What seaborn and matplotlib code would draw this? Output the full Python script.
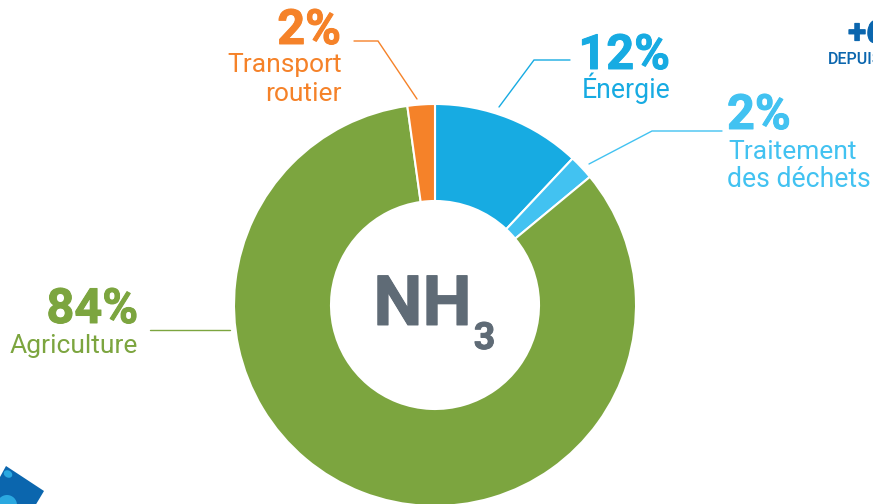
import numpy as np
import matplotlib.pyplot as plt
import matplotlib.patheffects as pe
from matplotlib.patches import Polygon, Circle, Ellipse
import seaborn as sns

# Données
categories = ['Énergie', 'Traitement\ndes déchets', 'Agriculture', 'Transport\nroutier']
values = [12, 2, 83.8, 2.2]
pct_labels = ['12%', '2%', '84%', '2%']
colors = ['#17ABE2', '#42C2F1', '#7CA53F', '#F58229']

sns.set_theme(style='white')
plt.rcParams['font.family'] = ['Roboto', 'DejaVu Sans']

W, H = 873, 504
CX, CY, R = 435, 199, 201   # y compté depuis le bas

fig = plt.figure(figsize=(W / 100, H / 100), dpi=100)
ax = fig.add_axes([0, 0, 1, 1])

ax.pie(values, colors=colors, startangle=90, counterclock=False,
       center=(CX, CY), radius=R,
       wedgeprops={'width': 97, 'edgecolor': 'white', 'linewidth': 1.5})
ax.set_xlim(0, W)
ax.set_ylim(0, H)
ax.set_aspect('equal')
ax.axis('off')


def py(y):
    # coordonnée pixel de l'image -> axe
    return H - y


def heavy(x, y, s, c, size, ha='left'):
    # Roboto Black n'est pas dispo : on épaissit le gras avec un contour
    ax.text(x, py(y), s, color=c, fontsize=size, fontweight='bold', ha=ha, va='baseline',
            path_effects=[pe.withStroke(linewidth=0.7, foreground=c)])


# Centre
heavy(422.5, 325, 'NH', '#5F6B76', 50, ha='center')
heavy(484.5, 349, '3', '#5F6B76', 27, ha='center')

# Étiquettes : pourcentage + nom
heavy(670, 69, pct_labels[0], colors[0], 35, ha='right')
ax.text(670, py(98), categories[0], color=colors[0], fontsize=19.2, ha='right', va='baseline')

heavy(727, 129, pct_labels[1], colors[1], 35)
ax.text(728, py(159), 'Traitement', color=colors[1], fontsize=19, ha='left', va='baseline')
ax.text(727, py(187), 'des déchets', color=colors[1], fontsize=19.2, ha='left', va='baseline')

heavy(138, 323, pct_labels[2], colors[2], 35, ha='right')
ax.text(138, py(353), categories[2], color=colors[2], fontsize=19, ha='right', va='baseline')

heavy(341, 44, pct_labels[3], colors[3], 35, ha='right')
ax.text(342, py(72), 'Transport', color=colors[3], fontsize=19, ha='right', va='baseline')
ax.text(342, py(101), 'routier', color=colors[3], fontsize=19, ha='right', va='baseline')

# Traits de rappel
leaders = [
    ([570, 534, 499], [60, 60, 107], colors[0]),
    ([722, 652, 589], [131, 131, 164], colors[1]),
    ([150, 230], [330, 330], colors[2]),
    ([354, 378, 417], [41, 41, 99], colors[3]),
]
for xs, ys, c in leaders:
    ax.plot(xs, [py(y) for y in ys], color=c, lw=1, solid_joinstyle='miter')

# Texte coupé en haut à droite
heavy(848, 43, '+6', '#0B66AE', 24)
ax.text(828, py(64), 'DEPUIS', color='#0B66AE', fontsize=11.5, fontweight='medium', ha='left', va='baseline')

# Icône coupée en bas à gauche
ax.add_patch(Polygon([(0, py(477)), (6, py(466)), (44, py(491)), (35, py(506)), (0, py(506))],
                     closed=True, facecolor='#0B66AE', edgecolor='none'))
ax.add_patch(Ellipse((8, py(474)), 9, 7, angle=-30, facecolor='#2AA8E0', edgecolor='none'))
ax.add_patch(Circle((7, py(505)), 10, facecolor='#2AA8E0', edgecolor='none'))

fig.savefig('out.png', dpi=100, facecolor='white')
